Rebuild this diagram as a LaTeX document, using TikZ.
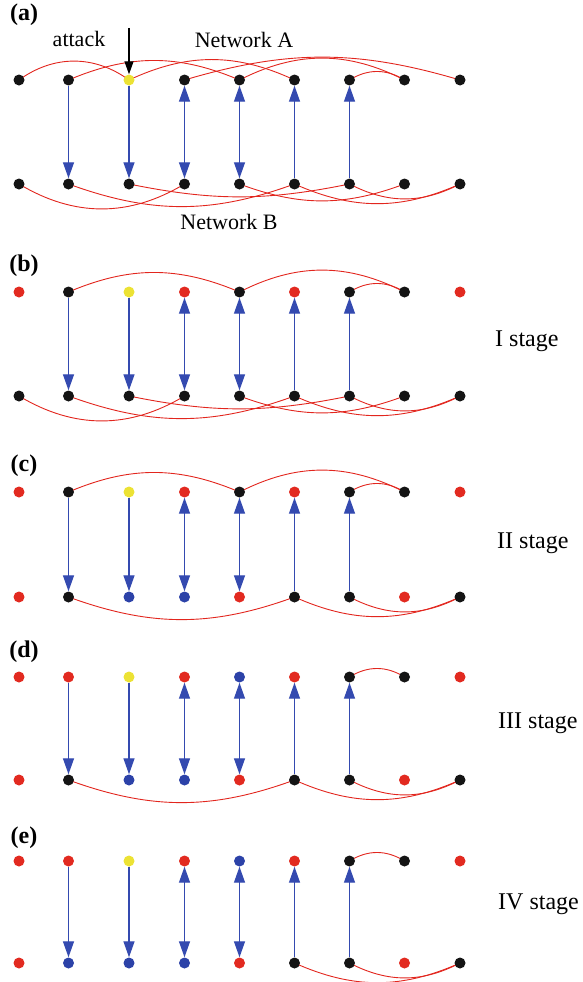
\documentclass[tikz,border=0pt]{standalone}
\usepackage{fontspec}
\setmainfont{Liberation Serif}
\usetikzlibrary{arrows.meta,backgrounds}
\definecolor{cK}{RGB}{20,20,20}
\definecolor{cR}{RGB}{226,42,32}
\definecolor{cY}{RGB}{236,226,52}
\definecolor{cB}{RGB}{44,66,168}
\definecolor{edgered}{RGB}{226,38,30}
\definecolor{depblue}{RGB}{52,74,176}
\newcommand\noderow[3]{%
  \foreach \c [count=\i] in {#3} {%
    \pgfmathsetmacro\xx{{19,68.5,129,184.5,239.5,294.5,349.5,404.5,460}[\i-1]}%
    \node[dot,fill=\c] (#1\i) at (\xx,#2) {};
  }%
}
\newcommand\deparrows[1]{%
  \draw[dep,-{Triangle[length=16pt,width=11pt]}] (#1t2) -- (#1b2);
  \draw[dep,-{Triangle[length=16pt,width=11pt]}] (#1t3) -- (#1b3);
  \draw[dep,{Triangle[length=16pt,width=11pt]}-{Triangle[length=16pt,width=11pt]}] (#1t4) -- (#1b4);
  \draw[dep,{Triangle[length=16pt,width=11pt]}-{Triangle[length=16pt,width=11pt]}] (#1t5) -- (#1b5);
  \draw[dep,{Triangle[length=16pt,width=11pt]}-] (#1t6) -- (#1b6);
  \draw[dep,{Triangle[length=16pt,width=11pt]}-] (#1t7) -- (#1b7);
}
\newcommand\up[3]{\draw[edge] (#1.center) to[bend left=#3] (#2.center);}
\newcommand\dn[3]{\draw[edge] (#1.center) to[bend right=#3] (#2.center);}
\begin{document}
\begin{tikzpicture}[x=1pt,y=-1pt,
  dot/.style={circle,inner sep=0pt,minimum size=11pt,draw=none},
  edge/.style={draw=edgered,line width=0.9pt},
  dep/.style={draw=depblue,fill=depblue,line width=1.3pt},
  lab/.style={font=\fontsize{24}{28}\selectfont\bfseries,inner sep=0pt},
  txt/.style={font=\fontsize{22}{26}\selectfont,inner sep=0pt},
  stg/.style={font=\fontsize{24}{28}\selectfont,inner sep=0pt,anchor=west}]
\useasboundingbox (0,0) rectangle (582,982);
% panel labels
\node[lab] (la) at (24,15) {(a)};
\node[lab] (lb) at (24,266) {(b)};
\node[lab] (lc) at (24,466) {(c)};
\node[lab] (ld) at (24,652) {(d)};
\node[lab] (le) at (24,838) {(e)};
% rows
\noderow{at}{80}{cK,cK,cY,cK,cK,cK,cK,cK,cK}
\noderow{ab}{184}{cK,cK,cK,cK,cK,cK,cK,cK,cK}
\noderow{bt}{292}{cR,cK,cY,cR,cK,cR,cK,cK,cR}
\noderow{bb}{396}{cK,cK,cK,cK,cK,cK,cK,cK,cK}
\noderow{ct}{492}{cR,cK,cY,cR,cK,cR,cK,cK,cR}
\noderow{cb}{597}{cR,cK,cB,cB,cR,cK,cK,cR,cK}
\noderow{dt}{677}{cR,cR,cY,cR,cB,cR,cK,cK,cR}
\noderow{db}{780}{cR,cK,cB,cB,cR,cK,cK,cR,cK}
\noderow{et}{861}{cR,cR,cY,cR,cB,cR,cK,cK,cR}
\noderow{eb}{963}{cR,cB,cB,cB,cR,cK,cK,cR,cK}
% texts
\node[txt] (attack) at (79,39) {attack};
\node[txt] (netA) at (244,40) {Network A};
\node[txt] (netB) at (229,222) {Network B};
\node[stg] (s1) at (495,341) {I stage};
\node[stg] (s2) at (497,543) {II stage};
\node[stg] (s3) at (498,723) {III stage};
\node[stg] (s4) at (498,904) {IV stage};
% attack arrow
\coordinate (atk) at (129,28);
\draw[line width=1.2pt,-{Triangle[length=13pt,width=9pt]}] (atk) -- (at3);
% dependency arrows
\deparrows{a}
\deparrows{b}
\deparrows{c}
\deparrows{d}
\deparrows{e}
% red links
\begin{scope}[on background layer]
% (a)
\up{at1}{at3}{36}
\up{at2}{at5}{23}
\up{at3}{at6}{25}
\up{at4}{at9}{16.5}
\up{at5}{at8}{27}
\up{at7}{at8}{32}
\dn{ab1}{ab4}{31}
\dn{ab2}{ab6}{20}
\dn{ab3}{ab7}{11.5}
\dn{ab5}{ab8}{20.5}
\dn{ab6}{ab9}{24}
\dn{ab7}{ab9}{27.5}
% (b)
\up{bt2}{bt5}{23}
\up{bt5}{bt8}{27}
\up{bt7}{bt8}{32}
\dn{bb1}{bb4}{31}
\dn{bb2}{bb6}{20}
\dn{bb3}{bb7}{11.5}
\dn{bb5}{bb8}{20.5}
\dn{bb6}{bb9}{24}
\dn{bb7}{bb9}{27.5}
% (c)
\up{ct2}{ct5}{23}
\up{ct5}{ct8}{27}
\up{ct7}{ct8}{32}
\dn{cb2}{cb6}{20}
\dn{cb6}{cb9}{24}
\dn{cb7}{cb9}{27.5}
% (d)
\up{dt7}{dt8}{32}
\dn{db2}{db6}{20}
\dn{db6}{db9}{24}
\dn{db7}{db9}{27.5}
% (e)
\up{et7}{et8}{32}
\dn{eb6}{eb9}{24}
\dn{eb7}{eb9}{27.5}
\end{scope}
\end{tikzpicture}
\end{document}
